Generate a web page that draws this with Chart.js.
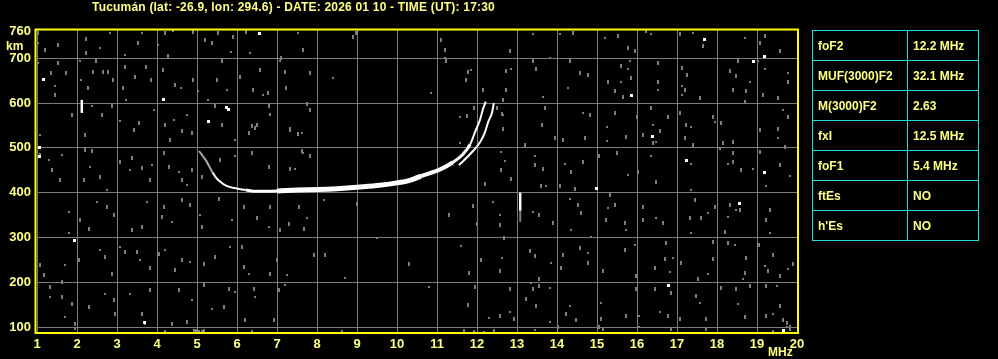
<!DOCTYPE html>
<html>
<head>
<meta charset="utf-8">
<script src="https://cdn.jsdelivr.net/npm/chart.js@4.4.1/dist/chart.umd.min.js"></script>
<style>
  html, body { margin: 0; padding: 0; background: #000; width: 998px; height: 359px; overflow: hidden; }
  #wrap { position: relative; width: 998px; height: 359px; }
  #chart { position: absolute; left: 0; top: 0; }
  #title { position: absolute; left: 92px; top: 0; line-height: 15px; font: bold 12px "Liberation Sans", Arial, sans-serif; letter-spacing: 0.2px; color: #ffff80; white-space: nowrap; }
  #params { position: absolute; left: 812px; top: 30px; width: 166px; table-layout: fixed; border-collapse: collapse;
            font: bold 12px "Liberation Sans", Arial, sans-serif; color: #ffff80; }
  #params td { border: 1px solid #22dddd; height: 29px; padding: 0 0 0 5px; white-space: nowrap; }
</style>
</head>
<body>
<div id="wrap">
  <canvas id="chart" width="998" height="359"></canvas>
  <div id="title"></div>
  <table id="params"><colgroup><col style="width:95px"><col style="width:71px"></colgroup><tbody></tbody></table>
</div>
<script>
// encabezado y tabla de parametros
const titleText = "Tucumán (lat: -26.9, lon: 294.6) - DATE: 2026 01 10 - TIME (UT): 17:30";
const paramNames = ["foF2", "MUF(3000)F2", "M(3000)F2", "fxI", "foF1", "ftEs", "h'Es"];
const paramValues = ["12.2 MHz", "32.1 MHz", "2.63", "12.5 MHz", "5.4 MHz", "NO", "NO"];

// ejes
const freqMin = 1, freqMax = 20;
const heightMin = 87, heightMax = 763;
const heightTicks = [100, 200, 300, 400, 500, 600, 700, 760];

// traza ordinaria (MHz, km)
const oTraceMHz = [5.05, 5.23, 5.39, 5.48, 5.56, 5.68, 5.81, 6.02, 6.22, 6.5, 7.0, 7.5, 8.0, 8.5, 9.0, 9.5, 10.0, 10.3, 10.6, 11.08, 11.4, 11.65, 11.83, 11.95, 12.08, 12.15, 12.22];
const oTraceKm  = [493, 471, 445, 433, 426, 418, 413, 409, 406, 403, 404, 406, 407, 409, 412, 416, 422, 427, 437, 452, 468, 486, 508, 535, 564, 587, 603];

// traza extraordinaria
const xTraceMHz = [11.55, 11.65, 11.9, 12.08, 12.2, 12.28, 12.38, 12.42];
const xTraceKm  = [462, 470, 493, 513, 535, 558, 580, 600];

// barras verticales [MHz, km desde, km hasta]
const whiteBars = [[2.12, 578, 607], [13.08, 360, 400]];
const grayBars = [[13.08, 335, 360]];

// ecos sueltos blancos
const whiteDots = [[1.05, 501], [1.05, 481], [5.29, 559], [5.79, 585], [1.94, 293], [3.68, 111], [6.57, 756], [1.15, 652],
  [4.15, 607], [5.73, 589], [17.69, 742], [19.19, 703], [18.9, 693], [15.86, 616], [16.38, 526], [17.23, 472],
  [19.19, 446], [18.57, 377], [16.79, 192], [19.65, 92], [14.98, 409]];

// ruido gris
const grayDots = [
  [1.08,529],[1.88,574],[2.21,529],[2.38,593],[2.63,574],[2.88,593],[3.08,559],[3.42,540],[3.54,555],[3.92,585],[4.21,551],[4.33,518],[4.42,563],[4.63,537],[4.88,533],[4.75,574],[5.46,593],[5.63,551],[5.96,518],[6.29,533],[6.5,551],[6.83,574],[6.79,593],[7.33,540],[7.63,533],[7.83,585],
  [1.08,484],[1.29,473],[1.38,451],[1.58,428],[1.63,484],[2.21,496],[2.38,492],[2.33,458],[2.17,428],[2.58,436],[2.75,406],[3.08,469],[3.38,477],[3.33,451],[3.63,455],[3.83,428],[3.88,462],[4.17,488],[4.29,458],[4.54,447],[4.63,428],[4.88,451],[4.75,417],[5.13,436],[5.58,473],[5.96,481],[6.38,488],[6.79,458],[7.33,451],[7.63,492],[7.83,481],
  [1.79,358],[2.08,339],[2.29,320],[2.5,380],[2.75,369],[2.92,350],[1.79,309],[3.38,317],[3.63,324],[3.75,380],[4.17,369],[4.13,346],[4.38,335],[4.63,384],[4.83,373],[5.08,350],[5.13,324],[5.54,387],[5.88,339],[6.17,369],[6.5,343],[6.79,324],[6.83,369],[7.54,369],[7.75,343],[7.67,320],[7.08,317],[8.17,384],
  [1.08,238],[1.17,216],[1.71,238],[1.63,201],[2.04,249],[2.58,272],[2.71,257],[2.88,219],[3.08,279],[3.21,268],[3.5,268],[3.58,249],[3.83,231],[4.04,264],[4.21,272],[4.46,227],[4.63,249],[4.83,246],[5.17,242],[5.46,257],[5.83,279],[6.13,279],[6.17,234],[6.29,219],[6.83,219],[7.0,249],[7.25,216],[7.92,260],
  [1.33,190],[1.33,167],[1.63,167],[1.88,152],[1.71,122],[1.96,107],[2.29,145],[2.71,175],[2.92,160],[2.96,130],[3.33,175],[3.63,130],[3.83,182],[3.71,107],[4.38,107],[4.54,182],[4.88,160],[4.75,111],[5.17,193],[5.38,141],[5.67,145],[5.79,186],[5.96,178],[6.21,115],[6.42,186],[6.46,167],[6.92,115],[7.04,182],[7.21,193],
  [4.92,92],[5.17,92],[1.96,95],[4.21,89],[4.98,92],[5.04,92],[5.13,89],[6.38,89],[8.63,92],[11.67,92],[11.92,89],[12.18,89],[12.42,92],
  [1.03,756],[1.03,733],[1.19,719],[1.53,730],[1.03,689],[1.53,689],[1.36,667],[1.44,637],[1.44,618],[1.73,667],[2.07,693],[2.23,744],[2.23,711],[2.11,652],[2.28,633],[2.4,670],[2.57,722],[2.48,693],[2.65,670],[2.82,756],[2.77,670],[2.9,652],[3.19,707],[3.19,681],[3.15,633],[3.23,607],[3.44,659],[3.53,733],[3.62,756],[3.73,681],[3.86,652],[4.03,730],[4.15,674],[4.19,756],[4.4,761],[4.27,704],[4.44,641],[4.61,633],[4.91,759],[4.91,652],[5.03,626],[5.2,741],[5.37,733],[5.28,607],[5.53,756],[5.49,652],[5.74,630],[5.62,693],[5.9,748],[5.86,715],[6.07,659],[6.23,759],[6.32,711],[6.57,674],[6.4,630],[6.65,618],[6.77,622],[7.11,700],[7.07,693],[7.19,670],[7.23,633],[7.52,756],[7.65,719],[7.82,667],[8.4,656],[8.9,748],[8.98,756],[10.86,622],[11.11,741],[11.19,719],[11.19,700],[11.23,693],[11.78,670],[11.86,674],[12.15,630],[11.73,652],[11.57,570],
  [7.33,542],[7.52,530],[7.66,489],[7.74,598],[7.33,452],[7.44,452],[11.74,572],[11.92,590],[11.58,512],[12.5,590],[12.63,575],[12.6,490],[6.37,548],[6.45,544],[6.83,576],
  [12.82,717],[12.73,671],[12.86,675],[12.73,630],[12.65,607],[12.65,573],[12.65,543],[13.19,506],[13.4,755],[13.4,693],[13.48,675],[13.65,614],[13.69,588],[13.63,551],[13.82,701],[13.94,521],[14.15,517],[14.07,753],[14.4,757],[14.32,693],[14.28,633],[14.57,667],[14.78,663],[14.65,577],[14.82,573],[14.69,521],[14.19,464],[14.36,446],[14.65,468],[13.44,483],[13.44,461],[13.65,453],
  [15.19,746],[15.53,750],[15.78,723],[15.82,693],[15.94,716],[15.6,682],[15.78,675],[15.86,656],[15.28,648],[15.6,648],[15.44,626],[15.65,614],[15.25,547],[15.44,577],[15.73,524],[15.25,516],[15.05,483],[15.5,488],[15.78,439],[16.03,446],
  [16.23,761],[16.36,753],[16.53,690],[16.53,648],[16.53,630],[16.0,570],[16.36,588],[16.4,551],[16.15,529],[16.4,510],[16.48,513],[16.57,537],[16.78,570],[16.36,483],[16.48,423],
  [17.07,753],[17.4,757],[17.65,727],[17.12,679],[17.12,637],[17.2,630],[17.25,663],[17.12,618],[17.07,577],[17.23,551],[17.36,547],[17.2,521],[17.4,506],[17.36,464],[17.57,612],[17.9,570],[17.95,558],
  [18.11,555],[18.15,510],[18.07,498],[18.4,513],[18.4,488],[18.28,464],[18.32,671],[18.48,660],[18.69,746],[18.53,693],[18.4,630],[18.82,648],[18.73,626],[18.69,603],[18.9,453],[18.4,468],[18.61,450],
  [19.02,693],[19.19,750],[19.07,735],[19.19,675],[19.15,618],[19.57,716],[19.78,667],[19.78,648],[19.53,612],[19.65,585],[19.78,570],[19.53,543],[19.53,521],[19.69,501],[19.57,461],[19.82,438],[19.07,540],[19.07,491],
  [12.58,350],[12.58,328],[12.67,299],[12.63,254],[12.58,225],[12.83,185],[12.83,133],[12.58,126],[12.92,118],[13.4,357],[13.56,350],[13.6,416],[13.73,416],[13.32,269],[13.44,258],[13.85,243],[13.9,332],[13.56,207],[13.36,199],[13.4,185],[13.56,192],[13.82,188],[13.23,163],[13.48,148],[13.82,111],
  [14.07,416],[14.44,409],[14.32,387],[14.53,372],[14.6,354],[14.36,317],[14.15,262],[14.57,277],[14.78,265],[14.78,243],[14.11,232],[14.32,148],[14.23,129],[14.48,115],[14.86,302],
  [15.32,394],[15.44,372],[15.28,365],[15.69,332],[15.23,339],[15.73,317],[15.69,273],[15.15,225],[15.11,155],[15.11,118],[15.73,126],[15.94,284],[15.98,214],[15.98,185],[16.06,126],
  [16.15,368],[16.15,339],[16.48,343],[16.65,332],[16.73,288],[16.9,254],[16.69,251],[16.44,232],[16.82,222],[16.44,185],[16.86,177],[16.57,133],[16.78,126],
  [17.11,243],[17.36,405],[17.44,383],[17.94,368],[17.78,354],[17.32,343],[17.61,343],[17.36,310],[17.9,291],[17.9,251],[17.78,218],[17.53,207],[17.48,170],[17.57,155],[17.73,118],[17.07,118],
  [18.28,346],[18.32,372],[18.57,361],[18.48,361],[18.2,313],[18.28,287],[18.44,284],[18.73,254],[18.69,221],[18.65,207],[18.11,188],[18.48,185],[18.52,152],[18.82,192],[18.69,122],
  [19.23,416],[19.32,361],[19.23,339],[19.32,310],[19.05,284],[19.4,262],[19.19,236],[19.28,225],[19.57,214],[19.78,229],[19.9,240],[19.23,192],[19.5,192],[19.57,148],[19.23,126],[19.4,129],[19.65,115],[19.82,100],
  [13.44,93],[15.06,100],[15.15,96],[16.06,100],[16.86,96],[17.73,96],[19.4,92],[19.82,96],[14.02,100],[19.74,100],[19.74,110],
  [7.03,182],[8.7,210],[11.78,150],[11.95,190],[12.3,120],[7.3,330],[8.2,262],[9.5,300],[10.3,240],[11.3,350],[11.6,280],[12.0,330],[11.8,220],[10.8,190],[9.0,375],[12.2,420],[12.4,380],[12.1,250],[11.9,370],
  [12.7,470],[12.85,430],[12.6,450]
];

// colores
const labelColor = "#ffff80";
const gridColor = "#7c7c7c";
const noiseColor = "#808080";
const tickFont = { family: "Liberation Sans", size: 13, weight: "bold" };

// titulo y tabla
document.getElementById("title").textContent = titleText;
const tbody = document.querySelector("#params tbody");
paramNames.forEach((n, i) => {
  const tr = document.createElement("tr");
  tr.innerHTML = `<td>${n}</td><td>${paramValues[i]}</td>`;
  tbody.appendChild(tr);
});

// puntitos de ruido
function speck(w, h, color) {
  const c = document.createElement("canvas");
  c.width = w; c.height = h;
  const g = c.getContext("2d");
  g.fillStyle = color;
  g.fillRect(0, 0, w, h);
  return c;
}
const speckTall = speck(2, 4, noiseColor);
const speckSmall = speck(2, 2, noiseColor);
const speckWhite = speck(3, 3, "#ffffff");

function oTraceWidth(mhz) {
  if (mhz < 6.2) return 2;
  if (mhz < 6.6) return 3;
  if (mhz < 10.6) return 5;
  if (mhz < 11.4) return 4;
  if (mhz < 11.8) return 3;
  return 2;
}

const toXY = (xs, ys) => xs.map((x, i) => ({ x, y: ys[i] }));

function barSets(list, color, width) {
  return list.map(([f, k0, k1]) => ({
    data: [{ x: f, y: k0 }, { x: f, y: k1 }],
    showLine: true, borderColor: color, borderWidth: width, pointRadius: 0, order: 1,
  }));
}

// marco amarillo y unidades
const frame = {
  id: "frame",
  beforeDatasetsDraw(chart) {
    chart.ctx.imageSmoothingEnabled = false;
  },
  afterDraw(chart) {
    const { ctx, chartArea: a } = chart;
    ctx.save();
    ctx.strokeStyle = "#ffff00";
    ctx.lineWidth = 2;
    ctx.strokeRect(a.left - 1.5, a.top - 0.5, a.right - a.left + 2.5, a.bottom - a.top + 0.5);
    ctx.fillStyle = labelColor;
    ctx.font = 'bold 12px "Liberation Sans"';
    ctx.textBaseline = "alphabetic";
    ctx.fillText("km", 6, 50);
    ctx.fillText("MHz", 768, 356);
    ctx.restore();
  },
};

new Chart(document.getElementById("chart"), {
  type: "scatter",
  data: {
    datasets: [
      {
        data: toXY(oTraceMHz, oTraceKm),
        showLine: true, pointRadius: 0, borderColor: "#ffffff", borderWidth: 3,
        cubicInterpolationMode: "monotone", order: 0,
        segment: {
          borderWidth: (c) => oTraceWidth(oTraceMHz[c.p0DataIndex]),
          borderColor: (c) => (oTraceMHz[c.p0DataIndex] < 5.39 ? "#a8a8a8" : "#ffffff"),
        },
      },
      {
        data: toXY(xTraceMHz, xTraceKm),
        showLine: true, pointRadius: 0, borderColor: "#ffffff", borderWidth: 2,
        cubicInterpolationMode: "monotone", order: 0,
      },
      ...barSets(whiteBars, "#ffffff", 2.5),
      ...barSets(grayBars, noiseColor, 2),
      {
        data: whiteDots.map(([x, y]) => ({ x, y })),
        pointStyle: speckWhite, pointRadius: 1, order: 2,
      },
      {
        data: grayDots.map(([x, y]) => ({ x, y })),
        pointStyle: (c) => (c.dataIndex % 3 === 0 ? speckSmall : speckTall),
        pointRadius: 1, order: 3,
      },
    ],
  },
  options: {
    responsive: false,
    devicePixelRatio: 1,
    animation: false,
    events: [],
    layout: { padding: { top: 30, right: 201, bottom: 0, left: 0 } },
    plugins: { legend: { display: false }, tooltip: { enabled: false } },
    scales: {
      x: {
        type: "linear", min: freqMin, max: freqMax,
        afterFit: (s) => { s.height = 26; },
        ticks: { stepSize: 1, color: labelColor, font: tickFont, padding: 4, maxRotation: 0, autoSkip: false },
        grid: { color: gridColor, lineWidth: 1, drawTicks: false },
        border: { display: false },
      },
      y: {
        type: "linear", min: heightMin, max: heightMax,
        afterBuildTicks: (s) => { s.ticks = heightTicks.map((v) => ({ value: v })); },
        afterFit: (s) => { s.width = 37; },
        ticks: { color: labelColor, font: tickFont, padding: 6 },
        grid: {
          color: (c) => (c.tick && c.tick.value === 760 ? "rgba(0,0,0,0)" : gridColor),
          lineWidth: 1, drawTicks: false,
        },
        border: { display: false },
      },
    },
  },
  plugins: [frame],
});
</script>
</body>
</html>
